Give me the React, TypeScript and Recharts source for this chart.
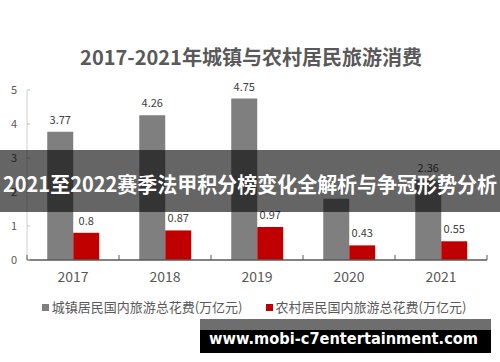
import { BarChart, Bar, XAxis, YAxis, LabelList } from 'recharts';

const years = ['2017', '2018', '2019', '2020', '2021'];
const urbanSpend = [3.77, 4.26, 4.75, 1.8, 2.36];
const ruralSpend = [0.8, 0.87, 0.97, 0.43, 0.55];
const yTicks = [0, 1, 2, 3, 4, 5];

const urbanName = '城镇居民国内旅游总花费(万亿元)';
const ruralName = '农村居民国内旅游总花费(万亿元)';

const data = years.map((year, i) => ({
  year,
  urban: urbanSpend[i],
  rural: ruralSpend[i]
}));

const FONT = '"Noto Sans CJK SC", "Noto Sans", sans-serif';

const YearTick = (props: any) => {
  const { x, y, payload, index, visibleTicksCount } = props;
  const half = payload && payload.offset ? payload.offset : 46;
  const axisY = y - 12;
  return (
    <g>
      <line x1={x - half} x2={x - half} y1={axisY} y2={axisY - 5} stroke="#595959" />
      {index === visibleTicksCount - 1 && (
        <line x1={x + half} x2={x + half} y1={axisY} y2={axisY - 5} stroke="#595959" />
      )}
      <text x={x} y={y} dy="0.71em" textAnchor="middle" fill="#595959" fontSize={14} fontFamily={FONT}>
        {payload.value}
      </text>
    </g>
  );
};

const legendItems = [
  { name: urbanName, color: '#7f7f7f' },
  { name: ruralName, color: '#c00000' }
];

export default function App() {
  return (
    <div style={{ position: 'relative', width: 500, height: 362, background: '#ffffff', overflow: 'hidden' }}>
      <style>{'body{margin:0;}'}</style>
      <div
        style={{
          position: 'absolute',
          top: 45,
          left: 0,
          width: 502,
          textAlign: 'center',
          fontFamily: FONT,
          fontWeight: 700,
          fontSize: 20,
          lineHeight: '24px',
          color: '#595959'
        }}
      >
        2017-2021年城镇与农村居民旅游消费
      </div>
      <BarChart
        width={500}
        height={362}
        data={data}
        margin={{ top: 90, right: 13, bottom: 72, left: 0 }}
        barCategoryGap="22%"
        barGap={0}
      >
        <XAxis
          dataKey="year"
          axisLine={{ stroke: '#595959', strokeWidth: 1.5 }}
          tickLine={false}
          tickSize={0}
          tickMargin={12}
          tick={<YearTick />}
          interval={0}
          height={30}
        />
        <YAxis
          width={27}
          domain={[0, 5]}
          ticks={yTicks}
          axisLine={{ stroke: '#d0d0d0' }}
          tickLine={{ stroke: '#bfbfbf' }}
          tickSize={-3}
          tickMargin={13}
          tick={{ fill: '#595959', fontSize: 11, fontFamily: FONT }}
        />
        <Bar dataKey="urban" name={urbanName} fill="#7f7f7f" isAnimationActive={false}>
          <LabelList dataKey="urban" position="top" offset={8} fill="#404040" fontSize={11} fontFamily={FONT} />
        </Bar>
        <Bar dataKey="rural" name={ruralName} fill="#c00000" isAnimationActive={false}>
          <LabelList dataKey="rural" position="top" offset={8} fill="#404040" fontSize={11} fontFamily={FONT} />
        </Bar>
      </BarChart>
      <div
        style={{
          position: 'absolute',
          top: 298,
          left: 4,
          width: 500,
          display: 'flex',
          justifyContent: 'center',
          gap: 23,
          fontFamily: FONT,
          fontSize: 13,
          lineHeight: '18px',
          color: '#595959'
        }}
      >
        {legendItems.map((item) => (
          <div key={item.name} style={{ display: 'flex', alignItems: 'center' }}>
            <span style={{ display: 'inline-block', width: 7, height: 7, background: item.color, marginRight: 3 }} />
            <span>{item.name}</span>
          </div>
        ))}
      </div>
      <div
        style={{
          position: 'absolute',
          top: 150,
          left: 0,
          width: 500,
          height: 62,
          background: 'rgba(7,7,7,0.62)'
        }}
      >
        <svg width={500} height={62}>
          <text
            x={250}
            y={33}
            textAnchor="middle"
            dominantBaseline="central"
            fill="#ffffff"
            fontFamily={FONT}
            fontWeight={700}
            fontSize={21}
            textLength={494}
            lengthAdjust="spacingAndGlyphs"
          >
            2021至2022赛季法甲积分榜变化全解析与争冠形势分析
          </text>
        </svg>
      </div>
      <div style={{ position: 'absolute', top: 319, left: 200, width: 291, height: 34 }}>
        <div style={{ height: 11, background: '#6e6e6e' }} />
        <div style={{ height: 23, background: '#000000' }} />
        <svg width={291} height={34} style={{ position: 'absolute', top: 0, left: 0 }}>
          <text
            x={9}
            y={25}
            fill="#ffffff"
            fontFamily='"DejaVu Sans", sans-serif'
            fontWeight={700}
            fontSize={16}
            textLength={269}
            lengthAdjust="spacingAndGlyphs"
          >
            www.mobi-c7entertainment.com
          </text>
        </svg>
      </div>
    </div>
  );
}
